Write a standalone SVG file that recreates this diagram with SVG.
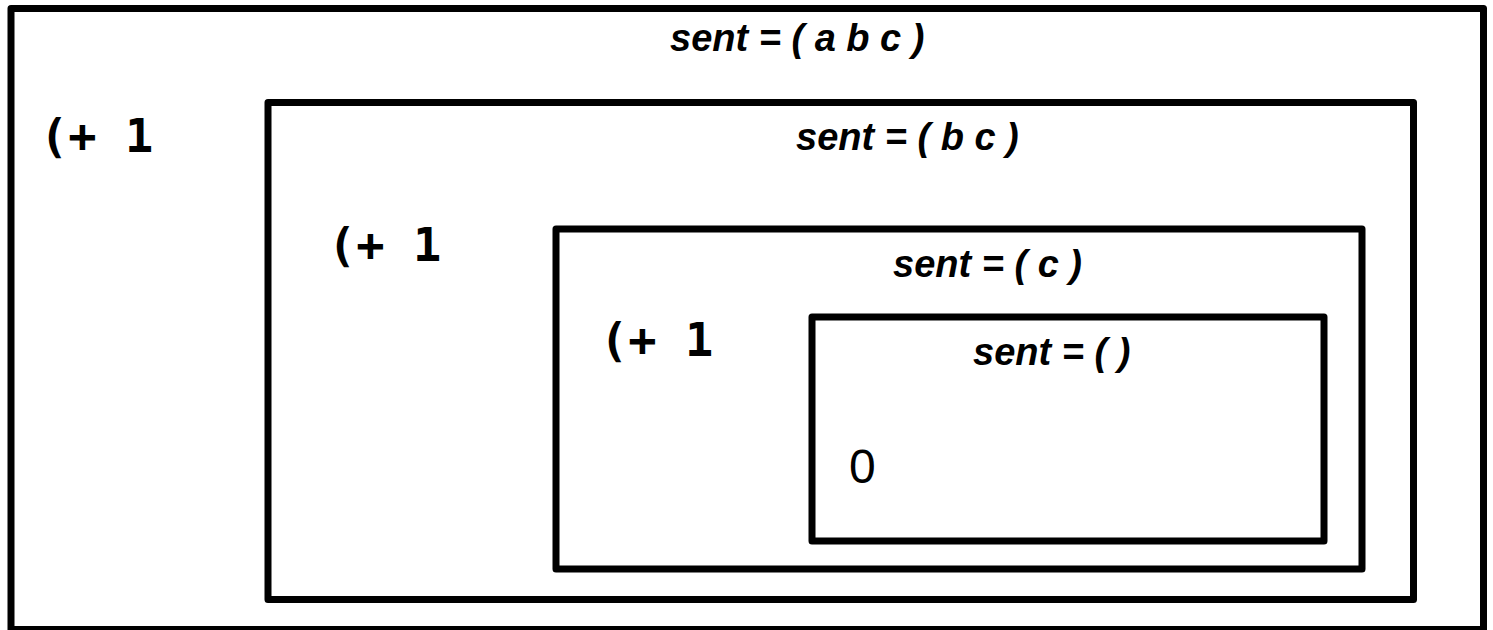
<svg xmlns="http://www.w3.org/2000/svg" width="1493" height="630" viewBox="0 0 1493 630">
<style>
.box{fill:none;stroke:#000;stroke-width:7;stroke-linejoin:round}
.lbl{font-family:"Liberation Sans",Arial,sans-serif;font-weight:bold;font-style:italic;font-size:38px;fill:#000}
.op{font-family:"DejaVu Sans Mono",monospace;font-weight:bold;font-size:47px;fill:#000}
.val{font-family:"Liberation Sans",Arial,sans-serif;font-size:48px;fill:#000}
</style>
<rect width="1493" height="630" fill="#fff"/>
<g id="frame1">
<rect class="box" x="11" y="8.5" width="1472.5" height="621"/>
<text class="lbl" x="670" y="51">sent = ( a b c )</text>
<text class="op" x="40" y="152">(+ 1</text>
</g>
<g id="frame2">
<rect class="box" x="268" y="102.5" width="1145.5" height="497"/>
<text class="lbl" x="796" y="150">sent = ( b c )</text>
<text class="op" x="328" y="261">(+ 1</text>
</g>
<g id="frame3">
<rect class="box" x="556" y="229" width="806" height="340"/>
<text class="lbl" x="893" y="277">sent = ( c )</text>
<text class="op" x="600" y="356">(+ 1</text>
</g>
<g id="frame4">
<rect class="box" x="812" y="317" width="512" height="224"/>
<text class="lbl" x="973" y="365">sent = ( )</text>
<text class="val" x="849" y="483">0</text>
</g>
<g id="connectors"></g>
</svg>
